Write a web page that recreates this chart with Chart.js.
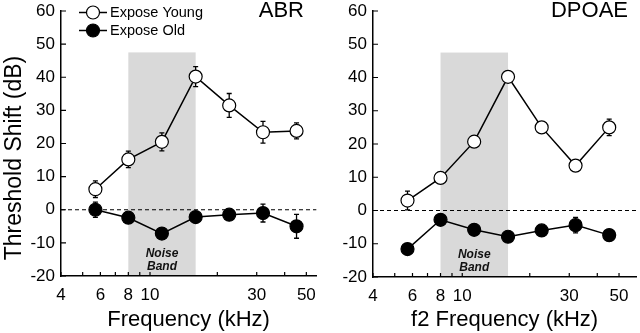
<!DOCTYPE html>
<html><head><meta charset="utf-8">
<script src="https://cdn.jsdelivr.net/npm/chart.js@4.4.0/dist/chart.umd.min.js"></script>
<style>
html,body{margin:0;padding:0;background:#fff;width:640px;height:333px;overflow:hidden;position:relative}
.pane{position:absolute;top:0;width:324px;height:333px}
#a{left:0}#b{left:320px}
</style></head><body>
<div class="pane" id="a"><canvas id="c1" width="324" height="333"></canvas></div>
<div class="pane" id="b"><canvas id="c2" width="324" height="333"></canvas></div>
<script>
// ---- data ----
const frequencies = [5.7, 8, 11.3, 16, 22.6, 32, 45.2];           // kHz
const abrYoung     = [6.2, 15.2, 20.5, 40.2, 31.5, 23.4, 23.8];
const abrYoungErr  = [2.5, 2.5, 2.7, 3.0, 3.6, 3.3, 2.4];
const abrOld       = [0, -2.4, -7.2, -2.2, -1.5, -1.0, -5.0];
const abrOldErr    = [2.3, 1.0, 1.0, 1.0, 1.0, 2.7, 3.6];
const dpYoung      = [3.0, 9.8, 20.7, 40.2, 25.0, 13.5, 25.0];
const dpYoungErr   = [2.8, 1.0, 1.0, 1.0, 1.0, 1.0, 2.5];
const dpOld        = [-11.6, -2.8, -5.8, -7.9, -6.0, -4.4, -7.4];
const dpOldErr     = [1.0, 1.0, 1.0, 1.0, 1.0, 2.3, 1.0];
const noiseBand    = [8, 16];      // kHz
const noiseBandTop = 47.5;         // dB
const xTickValues  = [4, 5, 6, 7, 8, 9, 10, 20, 30, 40, 50];
const xTickLabels  = ['4', '', '6', '', '8', '', '10', '', '30', '', '50'];
const seriesNames  = ['Expose Young', 'Expose Old'];

const FONT = '"Liberation Sans", Arial, Helvetica, sans-serif';
Chart.defaults.font.family = FONT;
Chart.defaults.color = '#000';

function pts(vals){ return frequencies.map((f, i) => ({x: f, y: vals[i]})); }

const decor = {
  id: 'decor',
  beforeDraw(chart, args, o) {
    const {ctx, scales: {x, y}} = chart;
    const x0 = x.getPixelForValue(noiseBand[0]), x1 = x.getPixelForValue(noiseBand[1]);
    const yt = y.getPixelForValue(noiseBandTop), yb = y.getPixelForValue(y.min);
    ctx.save();
    ctx.fillStyle = '#d9d9d9';
    ctx.fillRect(x0, yt, x1 - x0, yb - yt);
    ctx.restore();
  },
  beforeDatasetsDraw(chart, args, o) {
    const {ctx, chartArea: a, scales: {x, y}} = chart;
    ctx.save();
    ctx.strokeStyle = '#000'; ctx.lineWidth = 1.2; ctx.setLineDash([4, 3]);
    const y0 = y.getPixelForValue(0);
    ctx.beginPath(); ctx.moveTo(a.left, y0); ctx.lineTo(a.right, y0); ctx.stroke();
    ctx.setLineDash([]);
    const xc = (x.getPixelForValue(noiseBand[0]) + x.getPixelForValue(noiseBand[1])) / 2;
    ctx.font = 'italic bold 12px ' + FONT;
    ctx.textAlign = 'center'; ctx.textBaseline = 'middle'; ctx.fillStyle = '#111';
    ctx.fillText('Noise', xc, y.getPixelForValue(-13.4));
    ctx.fillText('Band', xc, y.getPixelForValue(-17.2));
    ctx.lineWidth = 1.3;
    chart.data.datasets.forEach(ds => {
      ds.errors.forEach((e, i) => {
        const p = ds.data[i];
        const px = x.getPixelForValue(p.x);
        const pt = y.getPixelForValue(p.y + e), pb = y.getPixelForValue(p.y - e);
        ctx.beginPath();
        ctx.moveTo(px, pt); ctx.lineTo(px, pb);
        ctx.moveTo(px - 2.5, pt); ctx.lineTo(px + 2.5, pt);
        ctx.moveTo(px - 2.5, pb); ctx.lineTo(px + 2.5, pb);
        ctx.stroke();
      });
    });
    ctx.restore();
  },
  afterDraw(chart, args, o) {
    const {ctx, chartArea: a, scales: {x, y}} = chart;
    ctx.save();
    ctx.strokeStyle = '#000'; ctx.lineWidth = 1.2;
    ctx.beginPath();
    x.ticks.forEach(t => { const px = x.getPixelForValue(t.value); ctx.moveTo(px, a.bottom); ctx.lineTo(px, a.bottom - 4); });
    y.ticks.forEach(t => { const py = y.getPixelForValue(t.value); ctx.moveTo(a.left, py); ctx.lineTo(a.left + 5, py); });
    ctx.stroke();
    ctx.fillStyle = '#000';
    ctx.font = '22px ' + FONT; ctx.textAlign = 'right'; ctx.textBaseline = 'alphabetic';
    ctx.fillText(o.title, o.titleRight, 17);
    if (o.legend) {
      ctx.font = '14.5px ' + FONT; ctx.textAlign = 'left'; ctx.textBaseline = 'middle';
      chart.data.datasets.forEach((ds, i) => {
        const ly = 12.5 + i * 18;
        ctx.lineWidth = 1.5; ctx.strokeStyle = '#000';
        ctx.beginPath(); ctx.moveTo(79, ly); ctx.lineTo(107, ly); ctx.stroke();
        ctx.beginPath(); ctx.arc(93, ly, 6.5, 0, Math.PI * 2);
        ctx.fillStyle = ds.pointBackgroundColor; ctx.fill();
        ctx.lineWidth = 1.2; ctx.stroke();
        ctx.fillStyle = '#000';
        ctx.fillText(ds.label, 110, ly + 0.5);
      });
    }
    if (o.yTitle) {
      ctx.translate(15, 158); ctx.rotate(-Math.PI / 2);
      ctx.font = '23px ' + FONT; ctx.textAlign = 'center'; ctx.textBaseline = 'middle';
      ctx.fillText(o.yTitle, 0, 0);
    }
    ctx.restore();
  }
};

function makeChart(id, young, youngErr, old, oldErr, cfg) {
  return new Chart(document.getElementById(id), {
    type: 'line',
    data: {
      datasets: [
        {label: seriesNames[0], data: pts(young), errors: youngErr, borderColor: '#000', borderWidth: 1.5,
         pointRadius: 6.5, pointHoverRadius: 6.5, pointBackgroundColor: '#fff', pointBorderColor: '#000', pointBorderWidth: 1.2},
        {label: seriesNames[1], data: pts(old), errors: oldErr, borderColor: '#000', borderWidth: 1.5,
         pointRadius: 6.5, pointHoverRadius: 6.5, pointBackgroundColor: '#000', pointBorderColor: '#000', pointBorderWidth: 1.2}
      ]
    },
    options: {
      responsive: false, animation: false, devicePixelRatio: 1,
      layout: {padding: {top: 11, right: 1, bottom: 0, left: 0}},
      events: [],
      plugins: {legend: {display: false}, tooltip: {enabled: false},
        decor: {title: cfg.title, titleRight: cfg.titleRight, legend: cfg.legend, yTitle: cfg.yTitle}},
      scales: {
        x: {
          type: 'logarithmic', min: 4, max: cfg.xMax,
          afterBuildTicks: s => { s.ticks = xTickValues.map(v => ({value: v})); },
          afterFit: s => { s.height = cfg.xHeight; s.paddingLeft = 0; s.paddingRight = 0; s.paddingTop = 0; s.paddingBottom = 0; },
          ticks: {autoSkip: false, maxRotation: 0, padding: 9, font: {size: 17},
            callback: v => { const i = xTickValues.indexOf(v); return i >= 0 ? xTickLabels[i] : ''; }},
          grid: {display: true, drawOnChartArea: false, drawTicks: false},
          border: {display: true, color: '#000', width: 1.5},
          title: {display: true, text: cfg.xTitle, font: {size: 22}, padding: {top: 0, bottom: 0}}
        },
        y: {
          min: -20, max: 60,
          afterFit: s => { s.width = cfg.yWidth; s.paddingLeft = 0; s.paddingRight = 0; s.paddingTop = 0; s.paddingBottom = 0; },
          ticks: {stepSize: 10, padding: 6, font: {size: 17}},
          grid: {display: true, drawOnChartArea: false, drawTicks: false},
          border: {display: true, color: '#000', width: 1.5}
        }
      }
    },
    plugins: [decor]
  });
}

makeChart('c1', abrYoung, abrYoungErr, abrOld, abrOldErr,
  {title: 'ABR', titleRight: 304, legend: true, yTitle: 'Threshold Shift (dB)', xTitle: 'Frequency (kHz)',
   xMax: 55.4, xHeight: 57, yWidth: 61});
makeChart('c2', dpYoung, dpYoungErr, dpOld, dpOldErr,
  {title: 'DPOAE', titleRight: 308, legend: false, yTitle: null, xTitle: 'f2 Frequency (kHz)',
   xMax: 59.7, xHeight: 56, yWidth: 53});
</script>
</body></html>
